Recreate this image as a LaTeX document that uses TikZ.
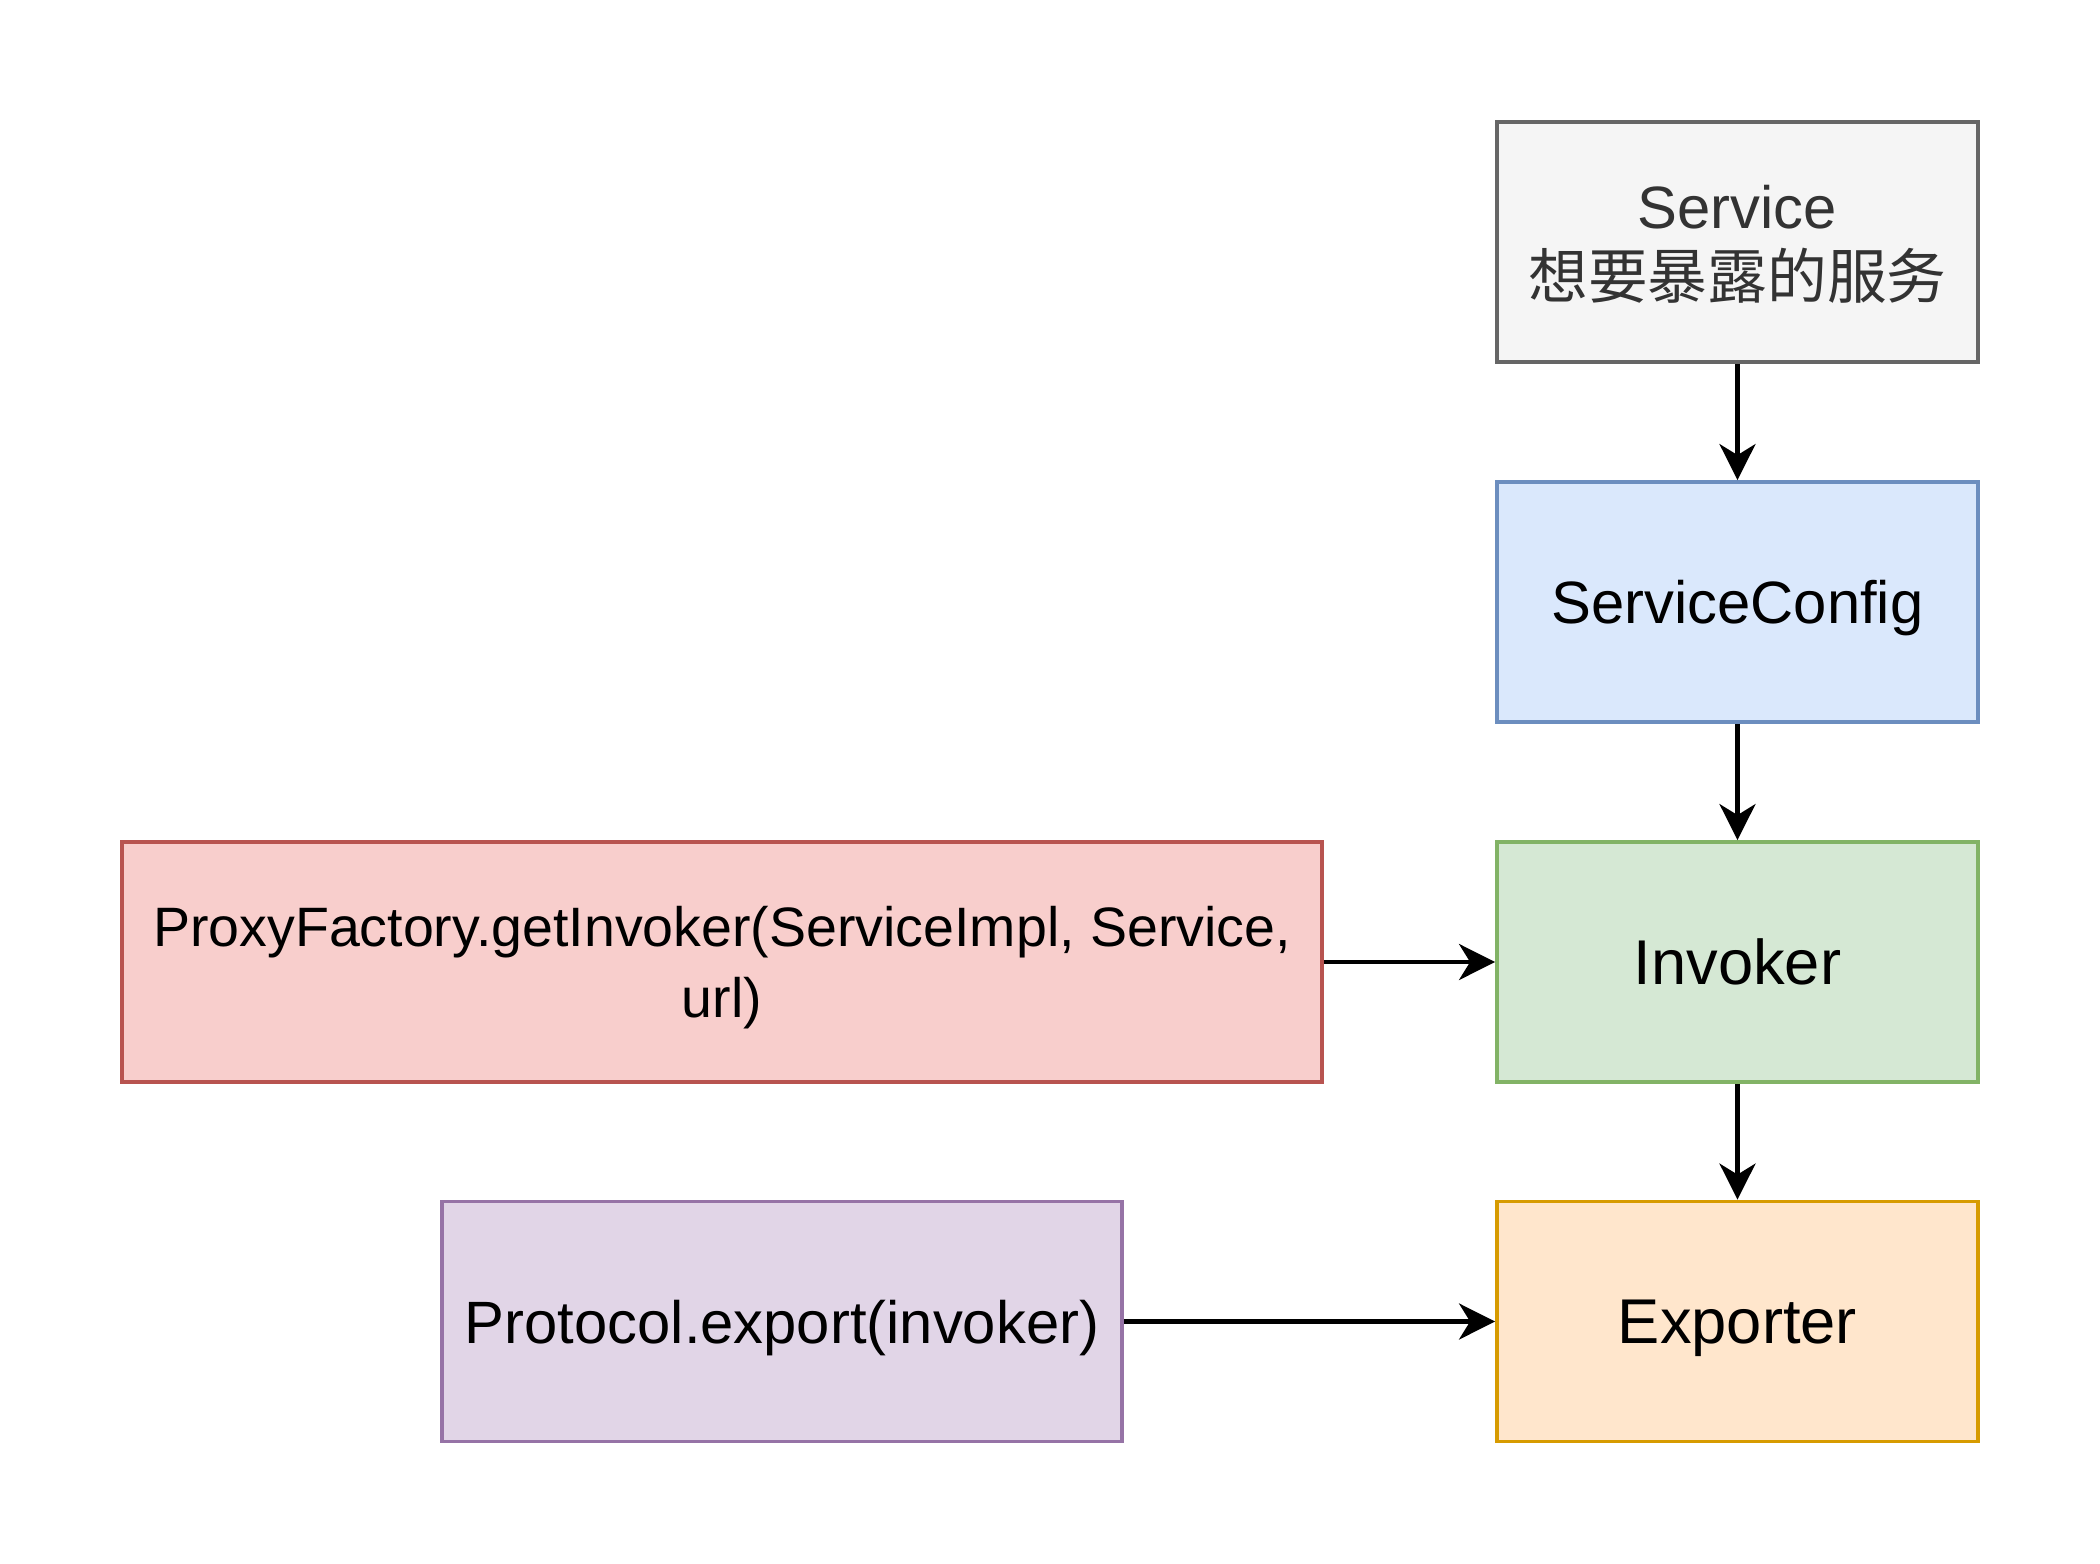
\documentclass[tikz,border=0pt]{standalone}
\usepackage{fontspec}
\setmainfont{Liberation Sans}
\newfontfamily\cjkfont{Noto Sans CJK SC}
\definecolor{svcfill}{HTML}{F5F5F5}
\definecolor{svcline}{HTML}{666666}
\definecolor{svctext}{HTML}{333333}
\definecolor{cfgfill}{HTML}{DAE8FC}
\definecolor{cfgline}{HTML}{6C8EBF}
\definecolor{invfill}{HTML}{D5E8D4}
\definecolor{invline}{HTML}{82B366}
\definecolor{expfill}{HTML}{FFE6CC}
\definecolor{expline}{HTML}{D79B00}
\definecolor{pxyfill}{HTML}{F8CECC}
\definecolor{pxyline}{HTML}{B85450}
\definecolor{prtfill}{HTML}{E1D5E7}
\definecolor{prtline}{HTML}{9673A6}
\usetikzlibrary{arrows.meta, positioning}

\begin{document}
\begin{tikzpicture}[
  mbox/.style={draw, line width=1.1pt, minimum width=4.81cm, minimum height=2.4cm, align=center, inner sep=4pt, text depth=0pt, font=\fontsize{17}{20}\selectfont},
  flow/.style={-{Stealth[length=0.36cm, width=0.36cm, inset=0.11cm]}, line width=1.2pt}
]
  \useasboundingbox (0,0) rectangle (21,-15.64);

  % Right column
  \node[mbox, draw=svcline, fill=svcfill, text=svctext] (svc) at (17.375, -2.42) {Service\\{\cjkfont 想要暴露的服务}};
  \node[mbox, draw=cfgline, fill=cfgfill] (cfg) at (17.375, -6.02) {ServiceConfig};
  \node[mbox, draw=invline, fill=invfill, font=\fontsize{18}{21}\selectfont] (inv) at (17.375, -9.62) {Invoker};
  \node[mbox, draw=expline, fill=expfill, font=\fontsize{18}{21}\selectfont] (exp) at (17.375, -13.215) {Exporter};

  % Left column
  \node[mbox, draw=pxyline, fill=pxyfill, minimum width=12cm, font=\fontsize{15.8}{20}\selectfont] (pxy) at (7.22, -9.62) {ProxyFactory.getInvoker(ServiceImpl, Service,\\url)};
  \node[mbox, draw=prtline, fill=prtfill, minimum width=6.8cm] (prt) at (7.82, -13.215) {Protocol.export(invoker)};

  \draw[flow] (svc) -- (cfg);
  \draw[flow] (cfg) -- (inv);
  \draw[flow] (inv) -- (exp);
  \draw[flow] (pxy) -- (inv);
  \draw[flow] (prt) -- (exp);
\end{tikzpicture}
\end{document}
